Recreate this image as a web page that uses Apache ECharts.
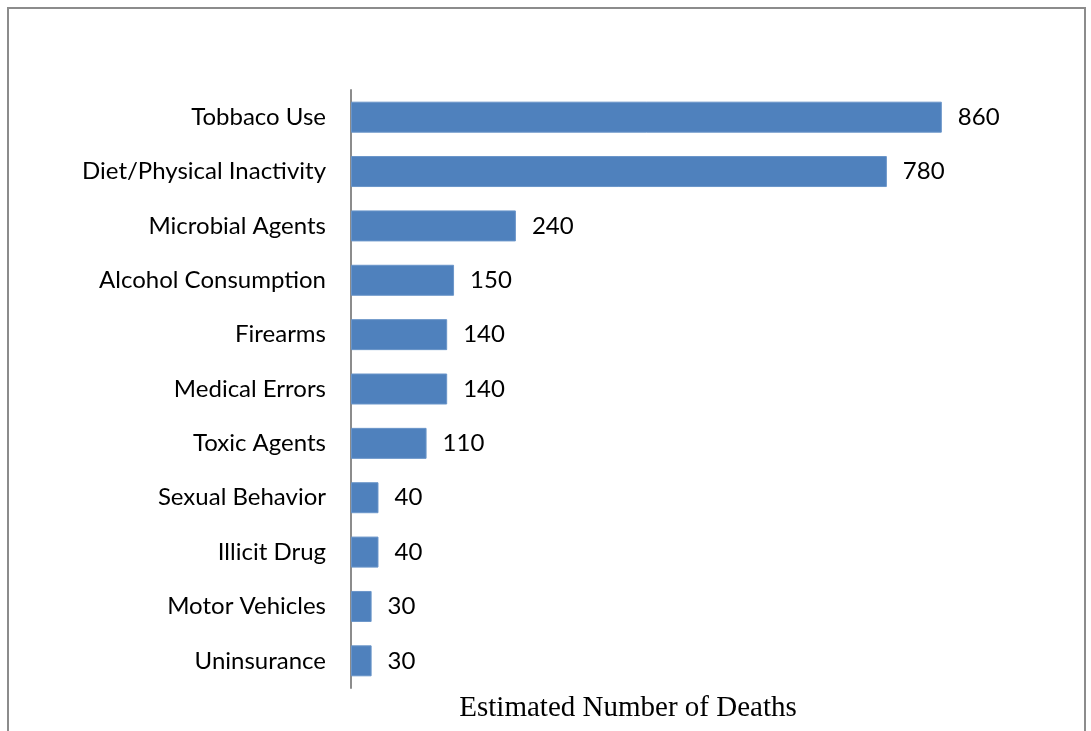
<!DOCTYPE html>
<html>
<head>
<meta charset="utf-8">
<script src="https://cdn.jsdelivr.net/npm/echarts@6/dist/echarts.min.js"></script>
<style>
html,body{margin:0;padding:0;background:#fff;}
#chart{width:1091px;height:731px;}
</style>
</head>
<body>
<div id="chart"></div>
<script>
var categories = ["Tobbaco Use","Diet/Physical Inactivity","Microbial Agents","Alcohol Consumption","Firearms","Medical Errors","Toxic Agents","Sexual Behavior","Illicit Drug","Motor Vehicles","Uninsurance"];
var deaths = [860,780,240,150,140,140,110,40,40,30,30];
var axisTitle = "Estimated Number of Deaths";

var chart = echarts.init(document.getElementById('chart'));
chart.setOption({
  animation:false,
  backgroundColor:'#fff',
  grid:{left:351,top:90,bottom:43,right:53,containLabel:false},
  xAxis:{type:'value',min:0,max:1000,show:false,splitLine:{show:false}},
  yAxis:{type:'category',data:categories,inverse:true,
    axisLine:{show:true,lineStyle:{color:'#8c8c8c',width:2}},
    axisTick:{show:false},
    axisLabel:{fontFamily:'Lato',fontSize:24,color:'#000',margin:25}
  },
  series:[{type:'bar',data:deaths,barWidth:31,
    itemStyle:{color:'#4F81BD',borderColor:'#6a95c9',borderWidth:1},
    label:{show:true,position:'right',distance:16,fontFamily:'Lato',fontSize:24,color:'#000'}
  }],
  graphic:[
    {type:'rect',shape:{x:8,y:8,width:1077,height:740},style:{fill:'none',stroke:'#8c8c8c',lineWidth:2},silent:true},
    {type:'text',x:628,y:708,style:{text:axisTitle,font:'29px "Liberation Serif"',fill:'#000',textAlign:'center',textVerticalAlign:'middle'}}
  ]
});
</script>
</body>
</html>
